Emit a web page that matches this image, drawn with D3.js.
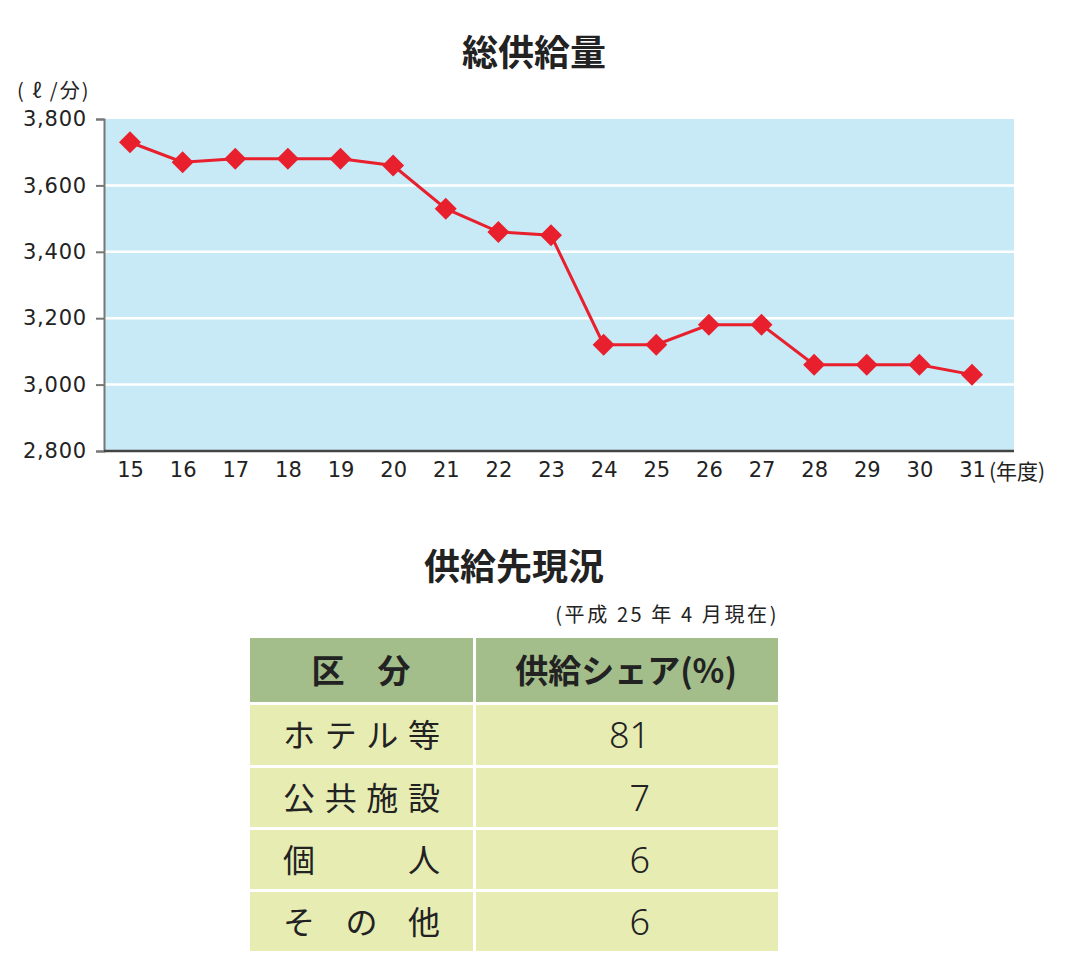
<!DOCTYPE html>
<html><head><meta charset="utf-8">
<script src="https://cdn.jsdelivr.net/npm/d3@7"></script>
<style>
body{margin:0;background:#fff;}
svg{display:block;font-family:"Noto Sans CJK JP","Noto Sans",sans-serif;}
</style></head>
<body><svg id="c" width="1072" height="978"></svg>
<script>
const years = [15,16,17,18,19,20,21,22,23,24,25,26,27,28,29,30,31];
const supply = [3730,3670,3680,3680,3680,3660,3530,3460,3450,3120,3120,3180,3180,3060,3060,3060,3030];
const yTicks = [2800,3000,3200,3400,3600,3800];
const tableHeaders = ["区　分","供給シェア(%)"];
const categories = ["ホテル等","公共施設","個　　人","そ の 他"];
const shares = [81,7,6,6];

const svg = d3.select("#c");
const L=104,R=1014,T=119,B=451;
const numFont = "'DejaVu Sans', sans-serif";
const x = d3.scaleLinear().domain([15,31]).range([130,972]);
const y = d3.scaleLinear().domain([2800,3800]).range([B,T]);

svg.append("text").attr("x",534).attr("y",66).attr("text-anchor","middle")
  .attr("font-size",36).attr("font-weight","bold").attr("fill","#222").text("総供給量");
svg.append("text").attr("x",17).attr("y",98).attr("font-size",20).attr("letter-spacing",2).attr("fill","#222").text("( ℓ /分)");

svg.append("rect").attr("x",L).attr("y",T).attr("width",R-L).attr("height",B-T).attr("fill","#c8e9f6");
svg.append("g").selectAll("line").data(yTicks.filter(d=>d>2800 && d<3800)).join("line")
  .attr("x1",L).attr("x2",R).attr("y1",d=>y(d)).attr("y2",d=>y(d)).attr("stroke","#fff").attr("stroke-width",2.5);

const ya = svg.append("g").attr("transform",`translate(${L},0)`)
  .call(d3.axisLeft(y).tickValues(yTicks).tickSize(8).tickPadding(9).tickFormat(d3.format(",")));
ya.select(".domain").attr("stroke","#777").attr("stroke-width",2);
ya.selectAll(".tick line").attr("stroke","#777").attr("stroke-width",2);
ya.selectAll("text").attr("font-size",21).attr("fill","#222").attr("font-family",numFont).attr("letter-spacing",0.8);

svg.append("line").attr("x1",L).attr("x2",R).attr("y1",B).attr("y2",B).attr("stroke","#444").attr("stroke-width",2.5);
const xa = svg.append("g").attr("transform",`translate(0,${B})`)
  .call(d3.axisBottom(x).tickValues(years).tickSize(0).tickPadding(8).tickFormat(d=>d));
xa.select(".domain").remove();
xa.selectAll("text").attr("font-size",21).attr("fill","#222").attr("dy","0.85em").attr("font-family",numFont);
svg.append("text").attr("x",989).attr("y",479).attr("font-size",21).attr("fill","#222").text("(年度)");

const line = d3.line().x((d,i)=>x(years[i])).y(d=>y(d));
svg.append("path").datum(supply).attr("d",line).attr("fill","none").attr("stroke","#e8202e").attr("stroke-width",3);
svg.append("g").selectAll("path").data(supply).join("path")
  .attr("transform",(d,i)=>`translate(${x(years[i])},${y(d)})`)
  .attr("d","M0,-11L11,0L0,11L-11,0Z").attr("fill","#e8202e");

// table
svg.append("text").attr("x",514).attr("y",580).attr("text-anchor","middle")
  .attr("font-size",36).attr("font-weight","bold").attr("fill","#222").text("供給先現況");
svg.append("text").attr("x",779).attr("y",622).attr("text-anchor","end")
  .attr("font-size",20).attr("letter-spacing",2.6).attr("fill","#222").text("(平成 25 年 4 月現在)");

const colX=[250,476], colW=[223,302];
const rowY=[705,768,830,892], rowH=[60,59,59,59];
colX.forEach((cx,i)=>{
  svg.append("rect").attr("x",cx).attr("y",638).attr("width",colW[i]).attr("height",64).attr("fill","#a3be8a");
});
svg.append("text").attr("x",361).attr("y",683).attr("text-anchor","middle").attr("font-size",33).attr("font-weight","bold").attr("fill","#222").text(tableHeaders[0]);
svg.append("text").attr("x",626).attr("y",683).attr("text-anchor","middle").attr("font-size",33).attr("font-weight","bold").attr("fill","#222").text(tableHeaders[1]);

categories.forEach((c,i)=>{
  colX.forEach((cx,j)=>{
    svg.append("rect").attr("x",cx).attr("y",rowY[i]).attr("width",colW[j]).attr("height",rowH[i]).attr("fill","#e6ecb2");
  });
  svg.append("text").attr("x",283).attr("y",rowY[i]+rowH[i]/2+12).attr("font-size",32).attr("fill","#222")
    .attr("textLength",157).attr("lengthAdjust","spacing").text(c.replace(/[ 　]/g,""));
  svg.append("text").attr("x",650).attr("y",rowY[i]+rowH[i]/2+13).attr("text-anchor","end").attr("font-size",36)
    .attr("fill","#222").attr("font-family","'Noto Sans', sans-serif").attr("font-weight",300).text(shares[i]);
});
</script></body></html>
